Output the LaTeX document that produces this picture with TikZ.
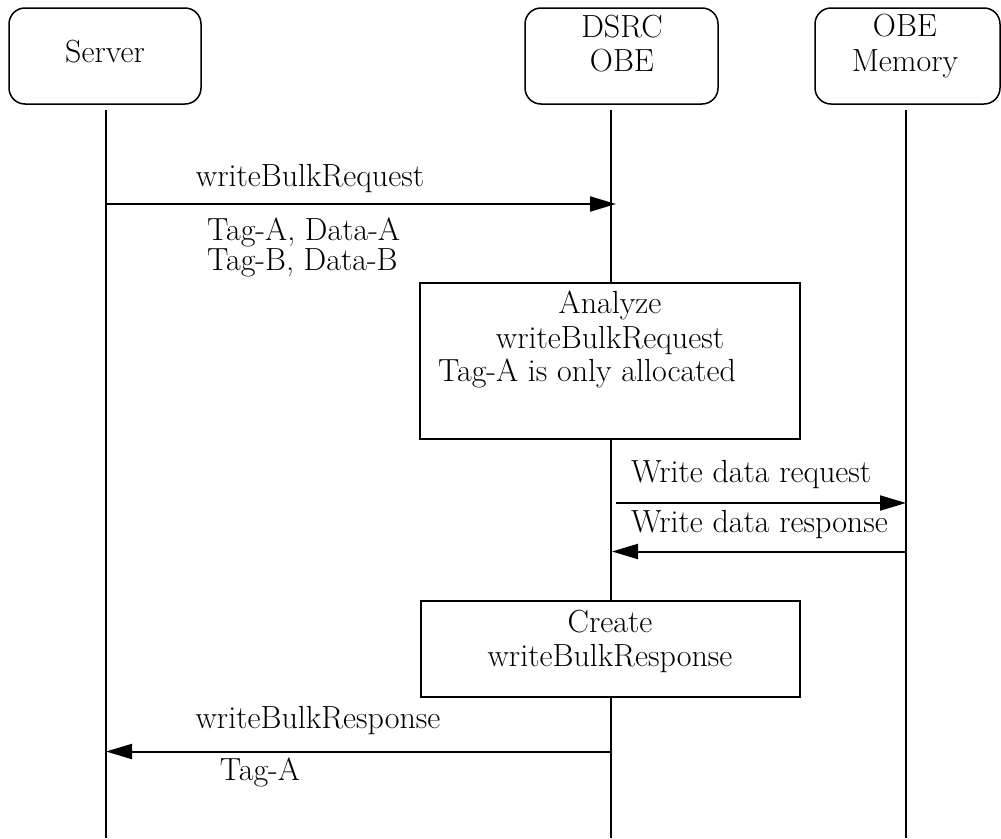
\documentclass[tikz,border=0pt]{standalone}
\usetikzlibrary{arrows.meta}
\begin{document}
\begin{tikzpicture}[x=1pt,y=-1pt,
  txt/.style={inner sep=0pt, anchor=base, font=\fontsize{32}{36}\selectfont},
  actor/.style={draw, line width=1.5pt, rounded corners=16pt, inner sep=0pt},
  procbox/.style={draw, line width=1.5pt, inner sep=0pt},
  life/.style={line width=1.6pt},
  msg/.style={line width=2pt, -{Triangle[length=26pt,width=15pt]}}]
\useasboundingbox (0,0) rectangle (1001,838);

% participants
\node[actor, minimum width=192pt, minimum height=96pt] (server) at (105,56) {};
\node[actor, minimum width=193pt, minimum height=96pt] (obe) at (621.5,56) {};
\node[actor, minimum width=185pt, minimum height=96pt] (mem) at (907.5,56) {};
\node[txt] (serverT) at (105,62) {Server};
\node[txt] (obeT1) at (622,37) {DSRC};
\node[txt] (obeT2) at (622,71) {OBE};
\node[txt] (memT1) at (905,36) {OBE};
\node[txt] (memT2) at (905,71) {Memory};

% lifeline ends
\coordinate (serverTop) at (106,110);
\coordinate (obeTop) at (611,110);
\coordinate (memTop) at (906,110);
\coordinate (serverEnd) at (106,838);
\coordinate (obeEnd) at (611,838);
\coordinate (memEnd) at (906,838);

% processing boxes
\node[procbox, minimum width=380pt, minimum height=156pt] (analyze) at (610,361) {};
\node[procbox, minimum width=379pt, minimum height=96pt] (create) at (610.5,649) {};

% lifelines
\draw[life] (serverTop) -- (serverEnd);
\draw[life] (obeTop) -- (obeTop |- analyze.north);
\draw[life] (obeTop |- analyze.south) -- (obeTop |- create.north);
\draw[life] (obeTop |- create.south) -- (obeEnd);
\draw[life] (memTop) -- (memEnd);

% message anchor points
\coordinate (m1s) at (106,204);    \coordinate (m1e) at (616,204);
\coordinate (m2s) at (616,503);    \coordinate (m2e) at (906,503);
\coordinate (m3s) at (906,551.5);  \coordinate (m3e) at (612,551.5);
\coordinate (m4s) at (611,751.5);  \coordinate (m4e) at (106,751.5);

% messages
\draw[msg] (m1s) -- (m1e);
\draw[msg] (m2s) -- (m2e);
\draw[msg] (m3s) -- (m3e);
\draw[msg] (m4s) -- (m4e);

% message labels
\node[txt] (l1) at (310,186) {writeBulkRequest};
\node[txt, anchor=base west] (l1a) at (207,240) {Tag-A, Data-A};
\node[txt, anchor=base west] (l1b) at (207,270) {Tag-B, Data-B};
\node[txt, anchor=base west] (l2) at (631,482) {Write data request};
\node[txt, anchor=base west] (l3) at (631,532) {Write data response};
\node[txt] (l4) at (318,728) {writeBulkResponse};
\node[txt] (l4a) at (260,780) {Tag-A};

% box texts
\node[txt] (a1) at (610,313) {Analyze};
\node[txt] (a2) at (610,348) {writeBulkRequest};
\node[txt, anchor=base west] (a3) at (438,381) {Tag-A is only allocated};
\node[txt] (c1) at (610,632) {Create};
\node[txt] (c2) at (610,666) {writeBulkResponse};
\end{tikzpicture}
\end{document}
